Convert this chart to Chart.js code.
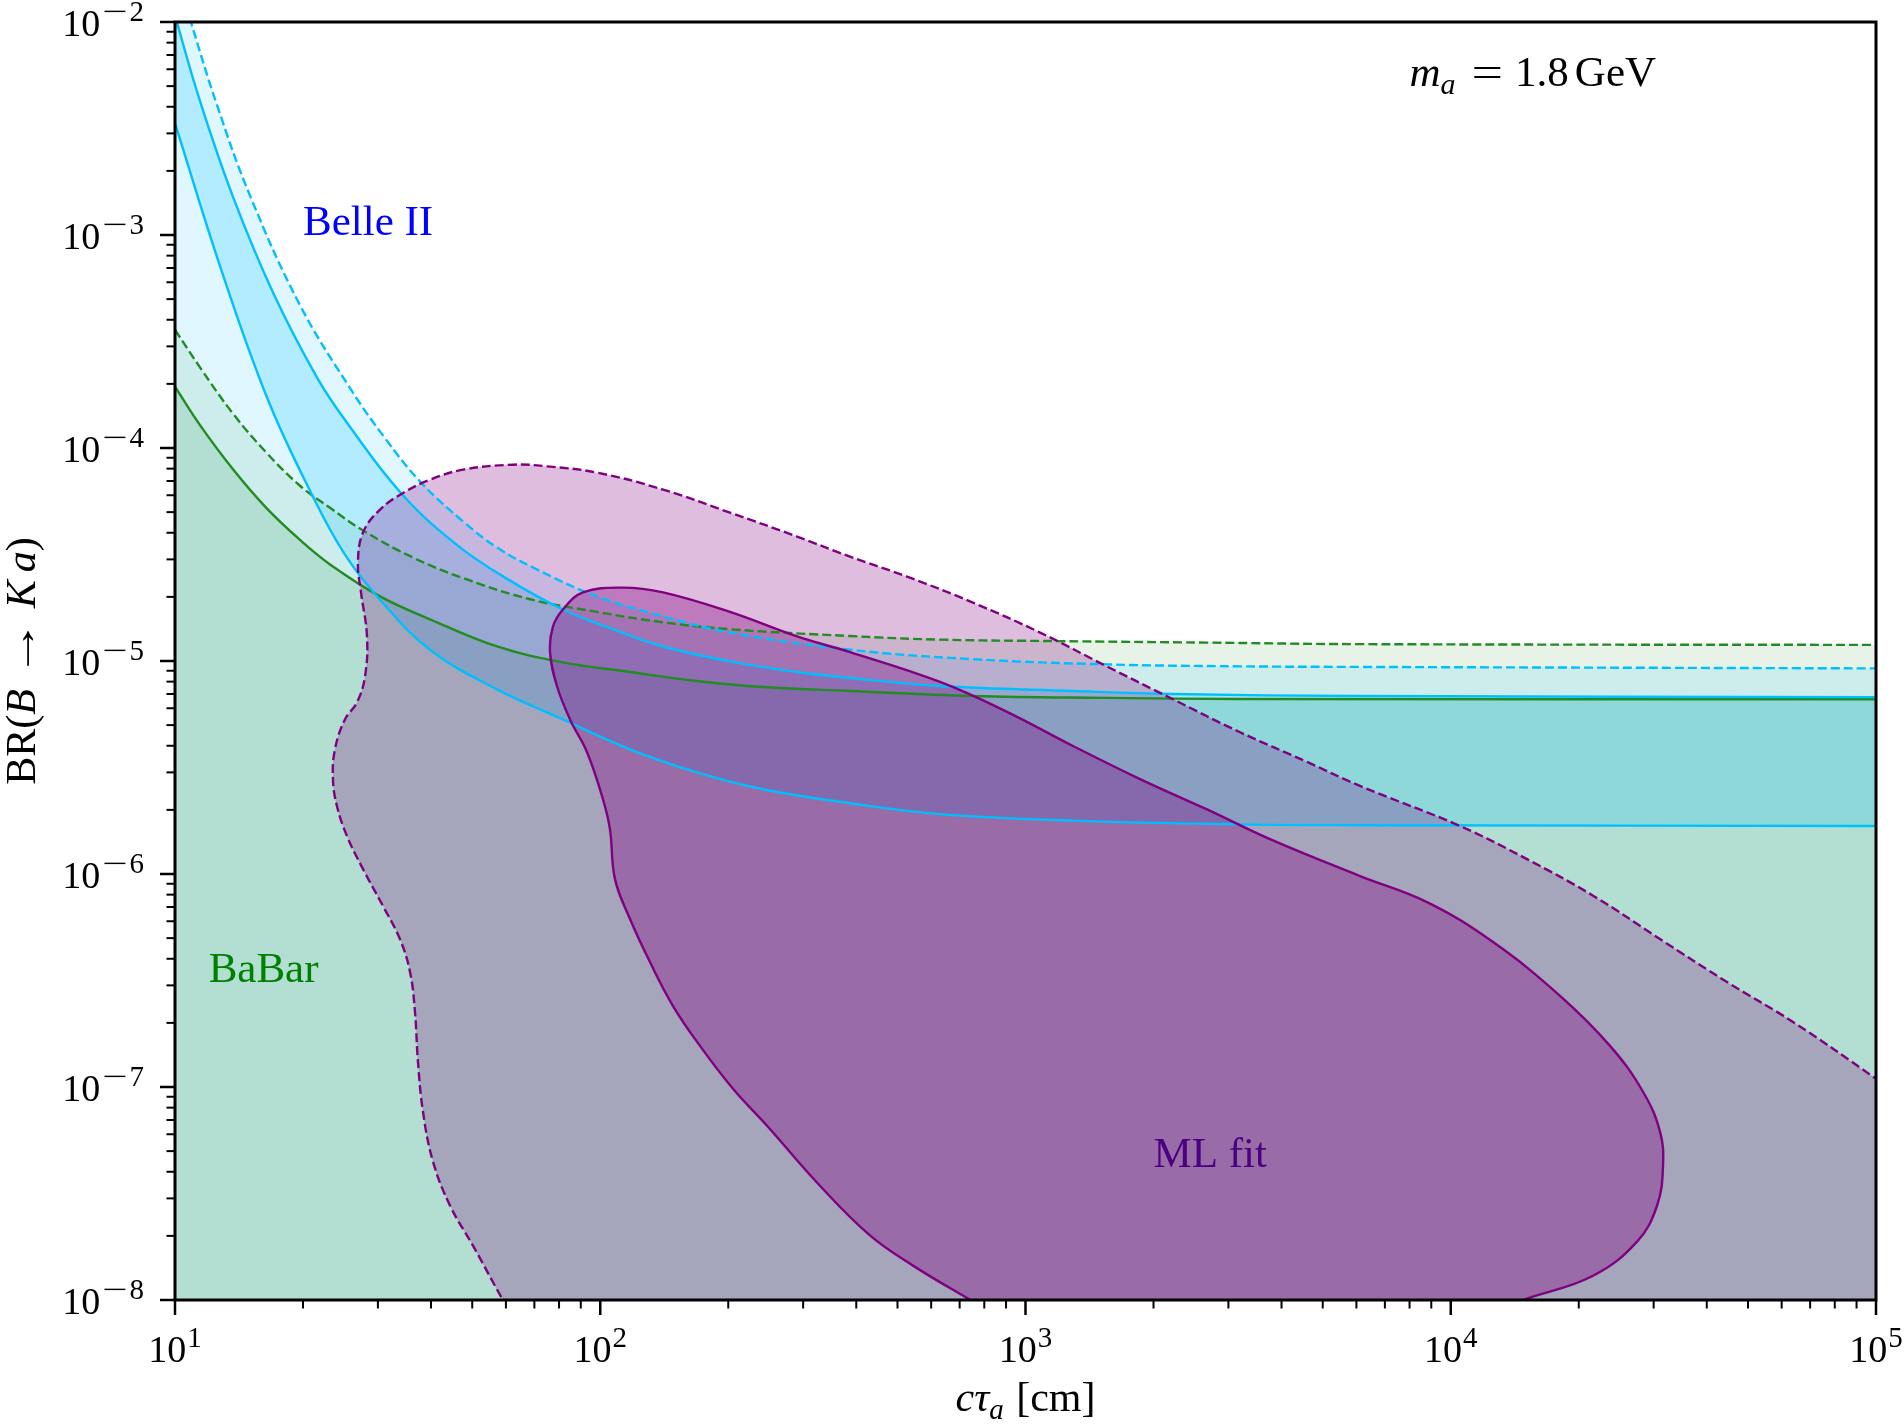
<!DOCTYPE html>
<html>
<head>
<meta charset="utf-8">
<title>BR(B → K a) vs cτa, m_a = 1.8 GeV</title>
<script src="https://cdn.jsdelivr.net/npm/chart.js@4/dist/chart.umd.min.js"></script>
<style>
  html, body { margin: 0; padding: 0; background: #fff; }
</style>
</head>
<body>
<canvas id="chart" width="1904" height="1427"></canvas>
<script>
// ---- data (cτ in cm, BR) ----
const babarSolidX = [10, 11.45, 13.69, 16.37, 19.68, 23.15, 30.35, 39.78, 57.2, 81.7, 117.5, 168.8, 241.4, 386.6, 752.3, 1554, 3195, 100000];
const babarSolidY = [1.94e-4, 1.28e-4, 7.94e-5, 5.25e-5, 3.70e-5, 2.84e-5, 2.01e-5, 1.57e-5, 1.17e-5, 9.85e-6, 8.88e-6, 8.06e-6, 7.55e-6, 7.23e-6, 6.85e-6, 6.71e-6, 6.63e-6, 6.61e-6];

const babarDashedX = [10, 11.45, 13.69, 16.43, 19.68, 23.15, 27.68, 36.28, 47.6, 68.4, 98.3, 140.5, 201.9, 386.6, 629.5, 1186, 2672, 6118, 100000];
const babarDashedY = [3.59e-4, 2.39e-4, 1.45e-4, 9.48e-5, 6.65e-5, 5.24e-5, 4.10e-5, 3.06e-5, 2.45e-5, 1.95e-5, 1.70e-5, 1.52e-5, 1.41e-5, 1.31e-5, 1.26e-5, 1.24e-5, 1.22e-5, 1.20e-5, 1.19e-5];

const belleDashedX = [10, 10.9, 12.53, 15.01, 19.68, 25.8, 31.2, 37.9, 47.6, 57.2, 71.0, 98.3, 140.5, 201.9, 386.6, 752.3, 1554, 3195, 6118, 100000];
const belleDashedY = [1.8e-2, 1.0e-2, 4.12e-3, 1.53e-3, 4.68e-4, 1.91e-4, 1.11e-4, 6.88e-5, 4.52e-5, 3.41e-5, 2.69e-5, 2.01e-5, 1.62e-5, 1.36e-5, 1.13e-5, 1.02e-5, 9.64e-6, 9.44e-6, 9.38e-6, 9.23e-6];

const belleUpperX = [10, 11.45, 13.69, 17.0, 21.58, 25.33, 34.1, 46.0, 60.4, 81.7, 107.2, 140.5, 201.9, 290.2, 386.6, 629.5, 1293, 2223, 6118, 100000];
const belleUpperY = [1.07e-2, 4.25e-3, 1.51e-3, 5.37e-4, 2.14e-4, 1.32e-4, 6.10e-5, 3.51e-5, 2.43e-5, 1.745e-5, 1.41e-5, 1.17e-5, 9.96e-6, 8.88e-6, 8.32e-6, 7.63e-6, 7.23e-6, 7.00e-6, 6.85e-6, 6.77e-6];

const belleLowerX = [10, 12.83, 16.55, 21.11, 25.1, 30.35, 39.78, 57.2, 81.7, 117.5, 168.8, 241.4, 386.6, 629.5, 1293, 3195, 6118, 100000];
const belleLowerY = [3.35e-3, 6.92e-4, 1.68e-4, 5.91e-5, 3.16e-5, 1.94e-5, 1.13e-5, 7.36e-6, 5.32e-6, 3.85e-6, 3.00e-6, 2.50e-6, 2.15e-6, 1.91e-6, 1.78e-6, 1.71e-6, 1.695e-6, 1.68e-6];

// ML fit contours (closed; points beyond the axes close the loop and get clipped)
const mlOuterX = [80.4, 66.5, 58.75, 50.2, 44.35, 40.44, 38.3, 37.27, 36.67, 35.7, 33.8, 30.84, 27.68, 25.38, 24.04, 23.52, 23.78, 25.1, 26.79, 27.98, 28.28, 27.38, 26.93, 27.68, 30.35, 34.38, 39.78, 47.55, 62.35, 74.97, 98.3, 140.5, 201.9, 290.2, 386.6, 526.4, 752.3, 1082, 1554, 2223, 3195, 4592, 6118, 10512, 15113, 21610, 31051, 44630, 63800, 100000, 157600, 157600, 80.4];
const mlOuterY = [3.45e-9, 6.6e-9, 1.016e-8, 1.80e-8, 2.77e-8, 4.46e-8, 7.65e-8, 1.31e-7, 2.25e-7, 3.47e-7, 4.95e-7, 7.07e-7, 1.054e-6, 1.505e-6, 2.08e-6, 2.79e-6, 3.85e-6, 5.32e-6, 6.39e-6, 8.47e-6, 1.304e-5, 2.10e-5, 2.90e-5, 4.01e-5, 5.14e-5, 6.15e-5, 7.10e-5, 7.91e-5, 8.35e-5, 8.20e-5, 7.66e-5, 6.38e-5, 4.97e-5, 3.84e-5, 3.09e-5, 2.49e-5, 1.88e-5, 1.36e-5, 9.43e-6, 6.61e-6, 4.63e-6, 3.36e-6, 2.59e-6, 1.68e-6, 1.174e-6, 7.91e-7, 4.95e-7, 3.11e-7, 2.02e-7, 1.093e-7, 5.71e-8, 2.78e-9, 3.45e-9];

const mlInnerX = [970.5, 732.3, 543.8, 430.8, 328.6, 246.7, 205.2, 171.6, 148.3, 130.9, 117.5, 108.3, 105.4, 101.5, 93.1, 84.9, 79.1, 76.2, 77.4, 81.7, 91.1, 113.1, 140.5, 201.9, 290.2, 386.6, 629.5, 904.5, 1293, 1859, 2672, 3758, 6118, 8795, 12574, 18070, 23690, 28320, 31051, 31560, 30550, 27420, 21610, 15113, 9434, 970.5];
const mlInnerY = [7.35e-9, 1.016e-8, 1.45e-8, 2.01e-8, 3.44e-8, 6.58e-8, 9.81e-8, 1.56e-7, 2.40e-7, 3.86e-7, 6.15e-7, 9.46e-7, 1.62e-6, 2.24e-6, 3.73e-6, 5.32e-6, 7.63e-6, 1.10e-5, 1.45e-5, 1.745e-5, 2.10e-5, 2.21e-5, 2.10e-5, 1.70e-5, 1.304e-5, 1.10e-5, 7.97e-6, 5.77e-6, 3.99e-6, 2.79e-6, 2.01e-6, 1.457e-6, 9.78e-7, 7.38e-7, 4.79e-7, 2.68e-7, 1.56e-7, 9.50e-8, 6.17e-8, 4.27e-8, 2.77e-8, 1.88e-8, 1.30e-8, 1.016e-8, 7.35e-9, 7.35e-9];

// ---- axes ----
const xMajorTicks = [1e1, 1e2, 1e3, 1e4, 1e5];
const xTickExponents = ['1', '2', '3', '4', '5'];
const yMajorTicks = [1e-8, 1e-7, 1e-6, 1e-5, 1e-4, 1e-3, 1e-2];
const yTickExponents = ['8', '7', '6', '5', '4', '3', '2']; // all negative
const minorMultipliers = [2, 3, 4, 5, 6, 7, 8, 9];

const FONT = '"Liberation Serif", "DejaVu Serif", serif';
const CYAN = '#00bfff';
const GREEN = '#228b22';
const PURPLE = '#800080';

function zip(xs, ys) {
  return xs.map((x, i) => ({ x, y: ys[i] }));
}

function setFont(ctx, r) {
  ctx.font = `${r.italic ? 'italic ' : ''}${r.size || 42}px ${FONT}`;
}

// draw a row of text pieces (italic / sub / superscript, optional stretch and padding)
function drawRuns(ctx, runs, x, y, align) {
  let total = 0;
  runs.forEach((r) => {
    setFont(ctx, r);
    r.w = ctx.measureText(r.t).width * (r.sx || 1) + (r.padL || 0) + (r.padR || 0);
    total += r.w;
  });
  let cx = x;
  if (align === 'center') cx = x - total / 2;
  else if (align === 'right') cx = x - total;
  runs.forEach((r) => {
    setFont(ctx, r);
    ctx.save();
    ctx.translate(cx + (r.padL || 0), y + (r.dy || 0));
    ctx.scale(r.sx || 1, 1);
    ctx.fillText(r.t, 0, 0);
    ctx.restore();
    cx += r.w;
  });
}

const framePlugin = {
  id: 'frame',
  afterDraw(chart) {
    const { ctx, chartArea: a } = chart;
    const xs = chart.scales.x;
    const ys = chart.scales.y;
    ctx.save();
    ctx.strokeStyle = '#000';
    ctx.fillStyle = '#000';
    ctx.textAlign = 'left';
    ctx.textBaseline = 'alphabetic';

    // ticks (outward, bottom and left only)
    const tick = (x1, y1, x2, y2, w) => {
      ctx.lineWidth = w;
      ctx.beginPath();
      ctx.moveTo(x1, y1);
      ctx.lineTo(x2, y2);
      ctx.stroke();
    };
    xMajorTicks.forEach((v, i) => {
      const px = xs.getPixelForValue(v);
      tick(px, a.bottom, px, a.bottom + 15, 2.5);
      if (i < xMajorTicks.length - 1) {
        minorMultipliers.forEach((m) => {
          const mx = xs.getPixelForValue(v * m);
          tick(mx, a.bottom, mx, a.bottom + 8.5, 2);
        });
      }
      drawRuns(ctx, [
        { t: '10', size: 38 },
        { t: xTickExponents[i], size: 29, dy: -15, padL: 1 },
      ], px, 1362, 'center');
    });
    yMajorTicks.forEach((v, i) => {
      const py = ys.getPixelForValue(v);
      tick(a.left - 15, py, a.left, py, 2.5);
      if (i < yMajorTicks.length - 1) {
        minorMultipliers.forEach((m) => {
          const my = ys.getPixelForValue(v * m);
          tick(a.left - 8.5, my, a.left, my, 2);
        });
      }
      drawRuns(ctx, [
        { t: '10', size: 38 },
        { t: '\u2212', size: 29, dy: -15, sx: 1.55, padL: 2, padR: 2 },
        { t: yTickExponents[i], size: 29, dy: -15 },
      ], 144, py + 14, 'right');
    });

    // frame
    ctx.lineWidth = 3;
    ctx.strokeRect(a.left, a.top, a.right - a.left, a.bottom - a.top);

    // axis titles
    drawRuns(ctx, [
      { t: 'c', italic: true }, { t: '\u03c4', italic: true },
      { t: 'a', italic: true, size: 29, dy: 8 }, { t: ' [cm]', padL: 2 },
    ], (a.left + a.right) / 2, 1411, 'center');

    ctx.save();
    ctx.translate(35, (a.top + a.bottom) / 2);
    ctx.rotate(-Math.PI / 2);
    drawRuns(ctx, [
      { t: 'BR(' }, { t: 'B', italic: true },
      { t: '\u2192', sx: 1.4, padL: 11, padR: 11 },
      { t: 'K', italic: true }, { t: 'a', italic: true, padL: 8 }, { t: ')' },
    ], 0, 0, 'center');
    ctx.restore();

    // annotations, anchored in data coordinates
    ctx.fillStyle = '#0000ff';
    drawRuns(ctx, [{ t: 'Belle II', size: 43 }], xs.getPixelForValue(20), ys.getPixelForValue(1e-3), 'left');
    ctx.fillStyle = '#008000';
    drawRuns(ctx, [{ t: 'BaBar', size: 43 }], xs.getPixelForValue(12), ys.getPixelForValue(3.1e-7), 'left');
    ctx.fillStyle = '#4b0082';
    drawRuns(ctx, [{ t: 'ML fit', size: 43 }], xs.getPixelForValue(2000), ys.getPixelForValue(4.2e-8), 'left');
    ctx.fillStyle = '#000';
    drawRuns(ctx, [
      { t: 'm', italic: true, size: 43 }, { t: 'a', italic: true, size: 30, dy: 8 },
      { t: '=', size: 43, sx: 1.3, padL: 16, padR: 12 },
      { t: '1.8', size: 43 }, { t: 'GeV', size: 43, padL: 6 },
    ], xs.getPixelForValue(8000), ys.getPixelForValue(5e-3), 'left');
    ctx.restore();
  },
};

const curve = (label, xs, ys, color, opts) => Object.assign({
  label,
  data: zip(xs, ys),
  borderColor: color,
  borderWidth: 2.4,
  pointRadius: 0,
  fill: false,
  tension: 0.4,
}, opts);

const datasets = [
  curve('ML fit (solid)', mlInnerX, mlInnerY, PURPLE, {
    order: 0, fill: 'shape', backgroundColor: 'rgba(128,0,128,0.35)',
  }),
  curve('ML fit (dashed)', mlOuterX, mlOuterY, PURPLE, {
    order: 1, fill: 'shape', backgroundColor: 'rgba(128,0,128,0.26)', borderDash: [9, 4],
  }),
  curve('Belle II upper', belleUpperX, belleUpperY, CYAN, {
    order: 2, fill: 3, backgroundColor: 'rgba(0,191,255,0.20)',
  }),
  curve('Belle II lower', belleLowerX, belleLowerY, CYAN, { order: 3 }),
  curve('Belle II dashed', belleDashedX, belleDashedY, CYAN, {
    order: 4, fill: 'start', backgroundColor: 'rgba(0,191,255,0.12)', borderDash: [9, 4],
  }),
  curve('BaBar', babarSolidX, babarSolidY, GREEN, {
    order: 5, fill: 'start', backgroundColor: 'rgba(34,139,34,0.15)',
  }),
  curve('BaBar dashed', babarDashedX, babarDashedY, GREEN, {
    order: 6, fill: 'start', backgroundColor: 'rgba(34,139,34,0.10)', borderDash: [9, 4],
  }),
];

new Chart(document.getElementById('chart'), {
  type: 'line',
  data: { datasets },
  options: {
    responsive: false,
    devicePixelRatio: 1,
    animation: false,
    events: [],
    layout: { padding: { left: 175, top: 22, right: 28, bottom: 127 } },
    elements: { line: { capBezierPoints: false } },
    plugins: {
      legend: { display: false },
      tooltip: { enabled: false },
      filler: { drawTime: 'beforeDatasetsDraw' },
    },
    scales: {
      x: { type: 'logarithmic', min: 10, max: 1e5, display: false },
      y: { type: 'logarithmic', min: 1e-8, max: 1e-2, display: false },
    },
  },
  plugins: [framePlugin],
});
</script>
</body>
</html>
